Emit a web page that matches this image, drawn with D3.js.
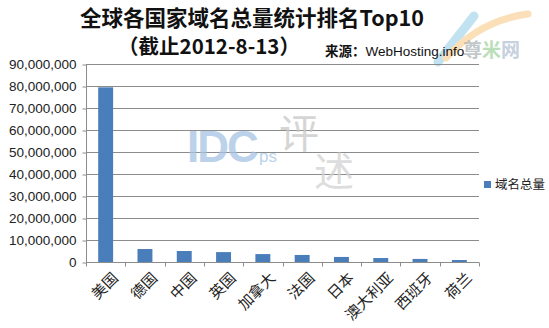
<!DOCTYPE html>
<html>
<head>
<meta charset="utf-8">
<script src="https://cdn.jsdelivr.net/npm/d3@7"></script>
<style>
body { margin: 0; background: #fff; }
svg { display: block; }
</style>
</head>
<body>
<div id="chart"></div>
<script>
/* data */
var countries = ['美国', '德国', '中国', '英国', '加拿大', '法国', '日本', '澳大利亚', '西班牙', '荷兰'];
var totals = [79400000, 5900000, 5000000, 4500000, 3600000, 3200000, 2300000, 1800000, 1400000, 900000];
var yTicks = [0, 10000000, 20000000, 30000000, 40000000, 50000000, 60000000, 70000000, 80000000, 90000000];
var seriesName = '域名总量';

/* layout */
var width = 549, height = 328;
var plot = {left: 86, right: 479, top: 64, bottom: 262};
var c_bar = '#4a7ebb', c_grid = '#8c8c8c';
var cjk = '"Noto Sans CJK SC", sans-serif';
var latin = '"Liberation Sans", Arial, sans-serif';

var svg = d3.select('#chart').append('svg')
  .attr('width', width).attr('height', height);

var x = d3.scaleBand().domain(countries).range([plot.left, plot.right]).paddingInner(0.62).paddingOuter(0.31);
var y = d3.scaleLinear().domain([0, 90000000]).range([plot.bottom, plot.top]);

// logo watermark, top right
var logo = svg.append('g').attr('opacity', 0.55);
logo.append('path').attr('d', 'M438,62 L474,16').attr('stroke', '#8fcde6').attr('stroke-width', 9).attr('stroke-linecap', 'round');
logo.append('path').attr('d', 'M446,58 Q480,20 528,14').attr('stroke', '#f6c57e').attr('stroke-width', 7).attr('fill', 'none').attr('stroke-linecap', 'round');
var lt = svg.append('text').attr('x', 463).attr('y', 57).attr('font-family', cjk).attr('font-weight', 'bold')
  .attr('font-size', 19).attr('opacity', 0.6);
lt.append('tspan').attr('fill', '#9aa3a8').text('尊');
lt.append('tspan').attr('fill', '#8cc98a').text('米');
lt.append('tspan').attr('fill', '#9fb3c8').text('网');

// gridlines
svg.append('g').selectAll('line').data(yTicks.slice(1)).enter().append('line')
  .attr('x1', plot.left).attr('x2', plot.right)
  .attr('y1', function(d) { return y(d) + 0.5; }).attr('y2', function(d) { return y(d) + 0.5; })
  .attr('stroke', c_grid).attr('stroke-width', 1);

// center watermark
var wm = svg.append('g').attr('opacity', 0.75);
wm.append('text').attr('x', 187).attr('y', 162).attr('font-family', latin).attr('font-weight', 'bold')
  .attr('font-size', 44).attr('fill', '#a6c4e4').attr('letter-spacing', -2).text('IDC');
wm.append('text').attr('x', 259).attr('y', 162).attr('font-family', latin)
  .attr('font-size', 17).attr('fill', '#a6c4e4').text('ps');
wm.append('text').attr('x', 279).attr('y', 148).attr('font-family', cjk)
  .attr('font-size', 40).attr('fill', '#c8c8c8').text('评');
wm.append('text').attr('x', 314).attr('y', 186).attr('font-family', cjk)
  .attr('font-size', 40).attr('fill', '#d2d2d2').text('述');

// y axis
var yAxis = svg.append('g').attr('transform', 'translate(' + (plot.left + 0.5) + ',0.5)')
  .call(d3.axisLeft(y).tickValues(yTicks).tickSize(4).tickPadding(6).tickFormat(d3.format(',')));
yAxis.selectAll('path, line').attr('stroke', c_grid);
yAxis.select('.domain').attr('d', 'M0,' + plot.top + 'V' + plot.bottom);
yAxis.selectAll('text').attr('font-family', latin).attr('font-size', 13.5).attr('fill', '#222');

// bars
svg.append('g').selectAll('rect').data(totals).enter().append('rect')
  .attr('x', function(d, i) { return x(countries[i]); })
  .attr('width', x.bandwidth())
  .attr('y', function(d) { return y(d); })
  .attr('height', function(d) { return y(0) - y(d); })
  .attr('fill', c_bar);

// x axis
var step = x.step();
var xAxis = svg.append('g').attr('transform', 'translate(0,' + (plot.bottom + 0.5) + ')');
xAxis.append('line').attr('x1', plot.left).attr('x2', plot.right).attr('stroke', c_grid);
xAxis.selectAll('.tk').data(d3.range(countries.length + 1)).enter().append('line')
  .attr('x1', function(i) { return Math.round(plot.left + i * step) + 0.5; })
  .attr('x2', function(i) { return Math.round(plot.left + i * step) + 0.5; })
  .attr('y1', 0).attr('y2', 4).attr('stroke', c_grid);
xAxis.selectAll('text').data(countries).enter().append('text')
  .attr('transform', function(d) {
    return 'translate(' + (x(d) + x.bandwidth() / 2 + 6) + ',9) rotate(-45)';
  })
  .attr('text-anchor', 'end').attr('dy', '0.7em')
  .attr('font-family', cjk).attr('font-size', 15).attr('fill', '#222')
  .text(function(d) { return d; });

// legend
svg.append('rect').attr('x', 484).attr('y', 181).attr('width', 7).attr('height', 7).attr('fill', c_bar);
svg.append('text').attr('x', 495).attr('y', 189).attr('font-family', cjk).attr('font-size', 12.5)
  .attr('fill', '#222').text(seriesName);

// titles
svg.append('text').attr('x', 252).attr('y', 26).attr('text-anchor', 'middle')
  .attr('font-family', cjk).attr('font-weight', 'bold').attr('font-size', 21.5).attr('fill', '#111')
  .text('全球各国家域名总量统计排名Top10');
svg.append('text').attr('x', 209).attr('y', 54).attr('text-anchor', 'middle')
  .attr('font-family', cjk).attr('font-weight', 'bold').attr('font-size', 20.5).attr('fill', '#111')
  .text('（截止2012-8-13）');
var src = svg.append('text').attr('x', 325).attr('y', 56).attr('font-size', 13.5).attr('fill', '#111');
src.append('tspan').attr('font-family', cjk).attr('font-weight', 'bold').text('来源：');
src.append('tspan').attr('font-family', latin).text('WebHosting.info');
</script>
</body>
</html>
